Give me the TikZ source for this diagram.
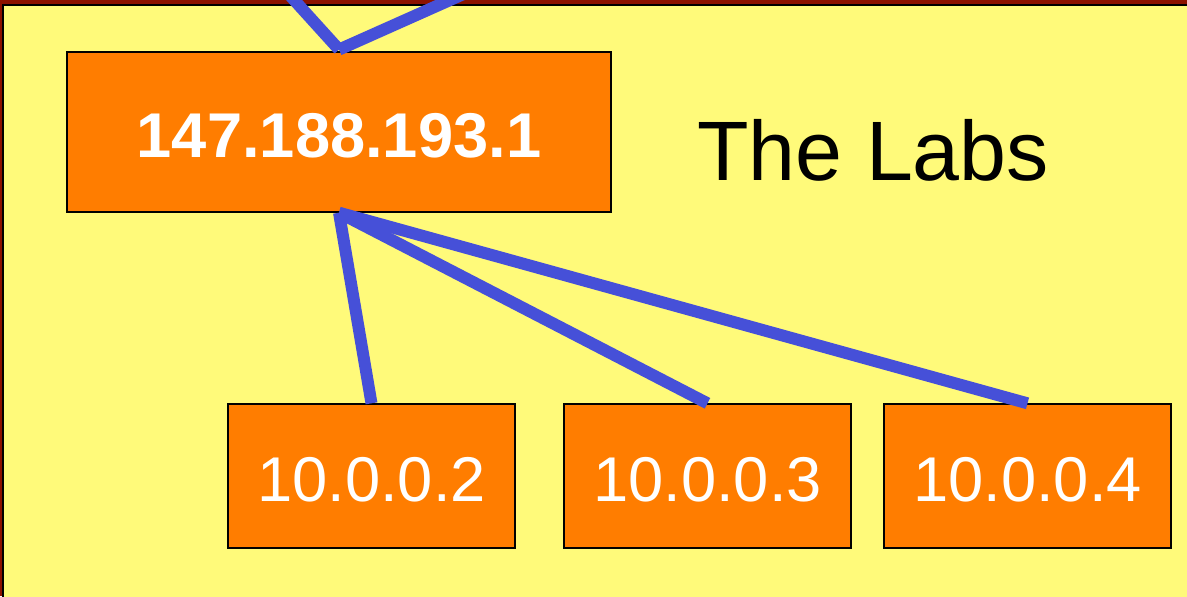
\documentclass[tikz,border=0pt]{standalone}
\usepackage{fontspec}
\setmainfont{Liberation Sans}
\definecolor{labyellow}{RGB}{255,250,122}
\definecolor{labred}{RGB}{140,18,0}
\definecolor{hostorange}{RGB}{255,125,0}
\definecolor{linkblue}{RGB}{70,80,216}
\newcommand{\hostlabel}[1]{\raisebox{-2pt}[\height][0pt]{#1}}
\begin{document}
\begin{tikzpicture}[x=0.02cm,y=-0.02cm,%
% common options for the host boxes:
host/.style = {draw=black, line width=0.8pt, fill=hostorange, text=white,
            minimum width=5.74cm, minimum height=2.88cm, inner sep=0,
            font=\fontsize{36}{40}\selectfont},
% common options for the links:
link/.style = {draw=linkblue, line width=6.8pt}]
\useasboundingbox (0,0) rectangle (1187,596);
\fill[labred] (0,0) rectangle (1187,596);
\draw[fill=labyellow, line width=0.8pt] (3,5) rectangle (1195,605);
\node[host,minimum width=10.88cm,minimum height=3.2cm,font=\fontsize{36}{40}\selectfont\bfseries] (gw) at (339,132) {\hostlabel{147.188.193.1}};
\node[host] (h2) at (371.5,476) {\hostlabel{10.0.0.2}};
\node[host] (h3) at (707.5,476) {\hostlabel{10.0.0.3}};
\node[host] (h4) at (1027.5,476) {\hostlabel{10.0.0.4}};
\node[anchor=base west,inner sep=0,font=\fontsize{48}{52}\selectfont] (labs) at (697,180) {The Labs};
\coordinate (upl) at (276,-20);
\coordinate (upr) at (495,-20);
\draw[link] (upl) to ([yshift=1pt]gw.north);
\draw[link] (upr) to ([yshift=1pt]gw.north);
\draw[link] (gw.south) to (h2.north);
\draw[link] (gw.south) to (h3.north);
\draw[link] (gw.south) to (h4.north);
\end{tikzpicture}
\end{document}
